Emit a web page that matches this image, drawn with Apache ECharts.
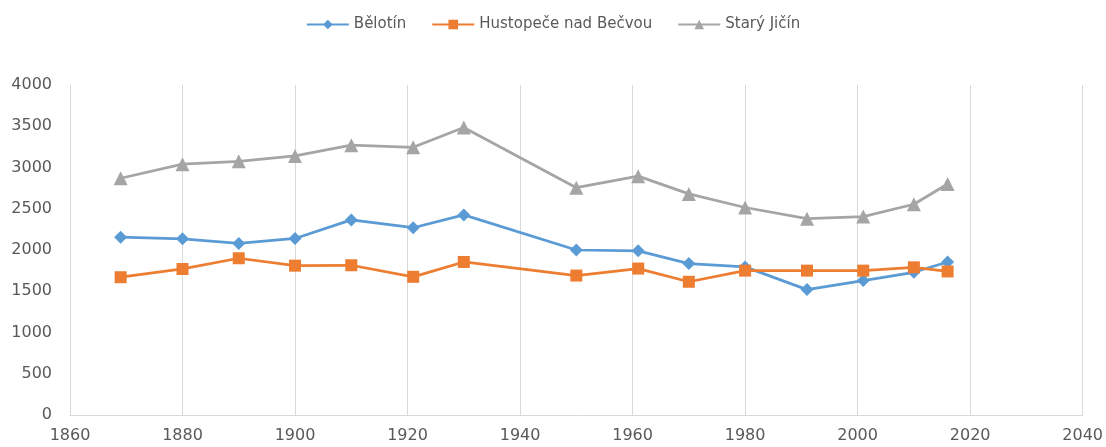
<!DOCTYPE html>
<html>
<head>
<meta charset="utf-8">
<script src="https://cdn.jsdelivr.net/npm/echarts@6/dist/echarts.min.js"></script>
<style>
html,body{margin:0;padding:0;background:#fff;}
#chart{width:1106px;height:447px;}
</style>
</head>
<body>
<div id="chart"></div>
<script>
const years = [1869, 1880, 1890, 1900, 1910, 1921, 1930, 1950, 1961, 1970, 1980, 1991, 2001, 2010, 2016];
const seriesNames = ['Bělotín', 'Hustopeče nad Bečvou', 'Starý Jičín'];
const belotin = [2155, 2135, 2080, 2140, 2365, 2270, 2425, 2000, 1990, 1835, 1795, 1520, 1630, 1730, 1855];
const hustopece = [1670, 1770, 1900, 1810, 1815, 1675, 1855, 1690, 1775, 1615, 1750, 1750, 1750, 1790, 1740];
const staryJicin = [2870, 3040, 3075, 3140, 3270, 3245, 3485, 2755, 2895, 2680, 2515, 2380, 2405, 2555, 2800];
const xTicks = {min: 1860, max: 2040, interval: 20};
const yTicks = {min: 0, max: 4000, interval: 500};

const colors = ['#5B9BD5', '#ED7D31', '#A5A5A5'];
const symbols = ['diamond', 'rect', 'triangle'];
const sizes = [13, 12, 14];
const values = [belotin, hustopece, staryJicin];

const chart = echarts.init(document.getElementById('chart'), null, {renderer: 'canvas'});
const font = 'DejaVu Sans';
chart.setOption({
  animation: false,
  backgroundColor: '#ffffff',
  color: colors,
  legend: {
    top: 12,
    left: 'center',
    itemWidth: 42,
    itemHeight: 12,
    itemGap: 25,
    textStyle: {fontFamily: font, fontSize: 15, color: '#595959'},
    data: seriesNames
  },
  grid: {left: 70, right: 23, top: 85, bottom: 32, containLabel: false},
  xAxis: {
    type: 'value',
    min: xTicks.min, max: xTicks.max, interval: xTicks.interval,
    axisLine: {show: true, lineStyle: {color: '#d9d9d9', width: 1}},
    axisTick: {show: false},
    axisLabel: {fontFamily: font, fontSize: 16, color: '#595959', margin: 13, formatter: v => String(v)},
    splitLine: {show: true, lineStyle: {color: '#d9d9d9', width: 1}}
  },
  yAxis: {
    type: 'value',
    min: yTicks.min, max: yTicks.max, interval: yTicks.interval,
    axisLine: {show: true, lineStyle: {color: '#d9d9d9', width: 1}},
    axisTick: {show: false},
    axisLabel: {fontFamily: font, fontSize: 16, color: '#595959', margin: 18, formatter: v => String(v)},
    splitLine: {show: false}
  },
  series: seriesNames.map((name, i) => ({
    name: name,
    type: 'line',
    data: years.map((y, j) => [y, values[i][j]]),
    symbol: symbols[i],
    symbolSize: sizes[i],
    showAllSymbol: true,
    lineStyle: {width: 2.75, color: colors[i]},
    itemStyle: {color: colors[i]},
    z: 2 + i
  }))
});
</script>
</body>
</html>
